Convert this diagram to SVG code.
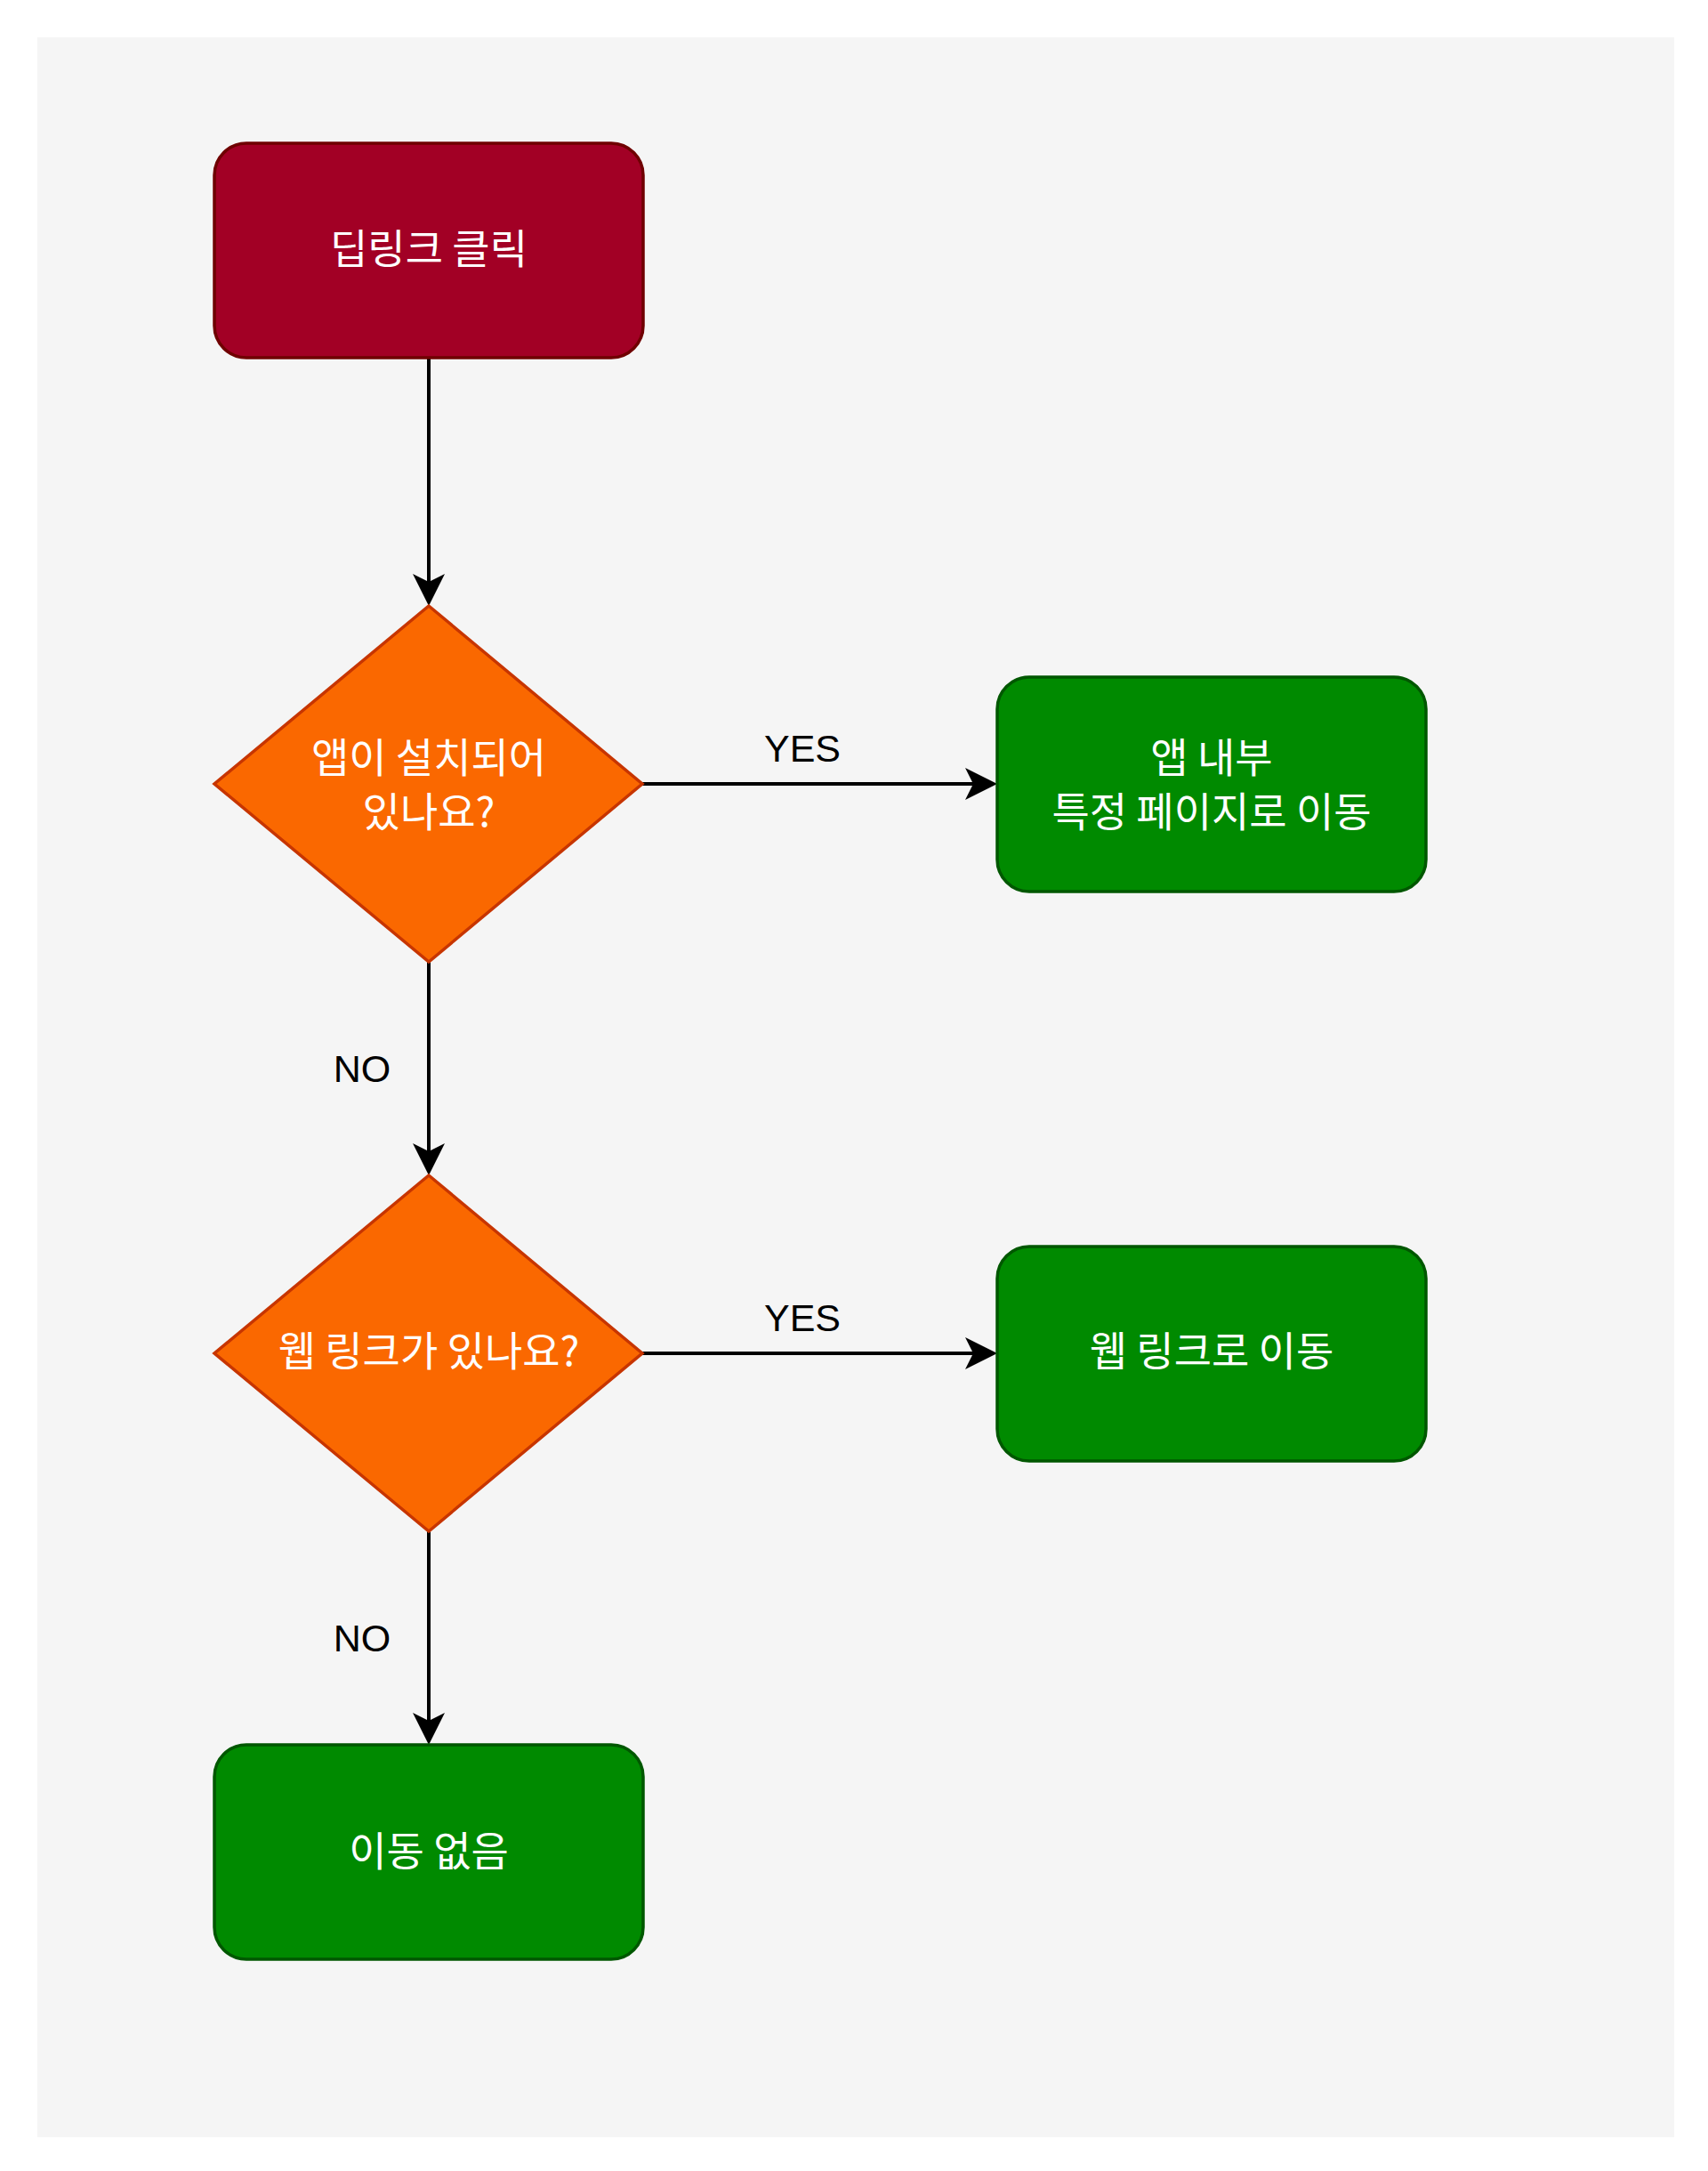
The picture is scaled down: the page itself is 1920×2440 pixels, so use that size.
<svg xmlns="http://www.w3.org/2000/svg" width="1920" height="2440" viewBox="0 0 1920 2440">
<style>
.nt{font-family:"Noto Sans CJK KR","Noto Sans",sans-serif;font-size:46px;fill:#ffffff;text-anchor:middle}
.lb{font-family:"Liberation Sans",Arial,sans-serif;font-size:43px;fill:#000000;text-anchor:middle}
.red{fill:#a20025;stroke:#6f0000;stroke-width:3.5}
.org{fill:#fa6800;stroke:#c73500;stroke-width:3.5}
.grn{fill:#008a00;stroke:#005700;stroke-width:3.5}
.edge{fill:none;stroke:#000000;stroke-width:4}
</style>
<defs>
<marker id="arr" markerUnits="userSpaceOnUse" viewBox="0 0 36 36" markerWidth="36" markerHeight="36" refX="16" refY="18" orient="auto">
<path d="M36 18 L0 0 L9 18 L0 36 Z" fill="#000000"/>
</marker>
</defs>
<rect x="0" y="0" width="1920" height="2440" fill="#ffffff"/>
<rect x="42" y="42" width="1840" height="2360" fill="#f5f5f5"/>
<g id="connectors">
<path class="edge" d="M482 402 L482 661" marker-end="url(#arr)"/>
<path class="edge" d="M482 1081 L482 1301" marker-end="url(#arr)"/>
<path class="edge" d="M722 881 L1101 881" marker-end="url(#arr)"/>
<path class="edge" d="M722 1521 L1101 1521" marker-end="url(#arr)"/>
<path class="edge" d="M482 1721 L482 1941" marker-end="url(#arr)"/>
<text class="lb" x="902" y="856">YES</text>
<text class="lb" x="902" y="1496">YES</text>
<text class="lb" x="407" y="1216">NO</text>
<text class="lb" x="407" y="1856">NO</text>
</g>
<g id="start">
<rect class="red" x="241" y="161" width="482" height="241" rx="36" ry="36"/>
<text class="nt" x="482" y="296">딥링크 클릭</text>
</g>
<g id="decision1">
<polygon class="org" points="482,681 722,881 482,1081 241,881"/>
<text class="nt" x="482" y="868">앱이 설치되어</text>
<text class="nt" x="482" y="929">있나요?</text>
</g>
<g id="appPage">
<rect class="grn" x="1121" y="761" width="482" height="241" rx="36" ry="36"/>
<text class="nt" x="1362" y="868">앱 내부</text>
<text class="nt" x="1362" y="929">특정 페이지로 이동</text>
</g>
<g id="decision2">
<polygon class="org" points="482,1321 722,1521 482,1721 241,1521"/>
<text class="nt" x="482" y="1535">웹 링크가 있나요?</text>
</g>
<g id="webLink">
<rect class="grn" x="1121" y="1401" width="482" height="241" rx="36" ry="36"/>
<text class="nt" x="1362" y="1535">웹 링크로 이동</text>
</g>
<g id="noMove">
<rect class="grn" x="241" y="1961" width="482" height="241" rx="36" ry="36"/>
<text class="nt" x="482" y="2097">이동 없음</text>
</g>
</svg>
